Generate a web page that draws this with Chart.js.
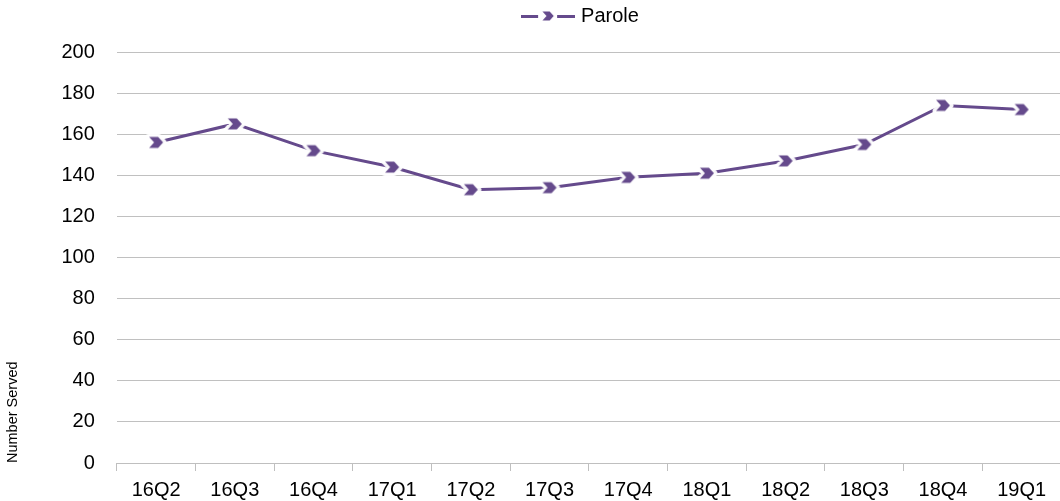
<!DOCTYPE html>
<html lang="en">
<head>
<meta charset="UTF-8">
<title>Parole - Number Served</title>
<script src="https://cdn.jsdelivr.net/npm/chart.js"></script>
<style>
    html, body { margin: 0; padding: 0; background: #fff; overflow: hidden; }
    /* plot runs slightly past the right edge in the original */
    #wrap { width: 1068px; height: 501px; }
</style>
</head>
<body>
<div id="wrap"><canvas id="chartParole"></canvas></div>
<script>
// data
const quarters = ['16Q2', '16Q3', '16Q4', '17Q1', '17Q2', '17Q3', '17Q4', '18Q1', '18Q2', '18Q3', '18Q4', '19Q1'];
const parole = [156, 165, 152, 144, 133, 134, 139, 141, 147, 155, 174, 172];
const yTicks = [0, 20, 40, 60, 80, 100, 120, 140, 160, 180, 200];

const purple = '#654a8c';
const FONT = 'Liberation Sans';

// chevron shape
function chevron(ctx, cx, cy) {
    ctx.beginPath();
    ctx.moveTo(cx - 7, cy - 5.5);
    ctx.lineTo(cx + 2, cy - 5.5);
    ctx.lineTo(cx + 7, cy);
    ctx.lineTo(cx + 2, cy + 5.5);
    ctx.lineTo(cx - 7, cy + 5.5);
    ctx.lineTo(cx - 2, cy);
    ctx.closePath();
}
function makeMarker() {
    const c = document.createElement('canvas');
    c.width = 26; c.height = 22;
    const ctx = c.getContext('2d');
    ctx.lineJoin = 'round';
    chevron(ctx, 13, 11);
    ctx.strokeStyle = 'rgba(255,255,255,0.95)';
    ctx.lineWidth = 7;
    ctx.stroke();
    ctx.fillStyle = purple;
    chevron(ctx, 13, 11);
    ctx.fill();
    return c;
}
function makeLegendMarker() {
    const c = document.createElement('canvas');
    c.width = 54; c.height = 14;
    const ctx = c.getContext('2d');
    ctx.fillStyle = purple;
    ctx.fillRect(0, 6, 17, 3);
    ctx.fillRect(36, 6, 18, 3);
    ctx.save();
    ctx.translate(27, 7);
    ctx.scale(0.8, 0.8);
    chevron(ctx, 0, 0);
    ctx.restore();
    ctx.fill();
    return c;
}
const marker = makeMarker();
const legendMarker = makeLegendMarker();

// extra room under the legend, and nudge it right like the original
const legendTweak = {
    id: 'legendTweak',
    beforeInit(chart) {
        const fit = chart.legend.fit;
        chart.legend.fit = function () {
            fit.bind(chart.legend)();
            this.height += 16;
        };
    },
    afterLayout(chart) {
        chart.legend.left += 46;
        chart.legend.right += 46;
    }
};

new Chart(document.getElementById('chartParole'), {
    type: 'line',
    data: {
        labels: quarters,
        datasets: [{
            label: 'Parole',
            data: parole,
            borderColor: purple,
            backgroundColor: purple,
            borderWidth: 3,
            pointStyle: marker,
            tension: 0,
            fill: false
        }]
    },
    plugins: [legendTweak],
    options: {
        responsive: true,
        maintainAspectRatio: false,
        animation: false,
        layout: { padding: { top: 0, right: 0, left: 4, bottom: -8 } },
        plugins: {
            legend: {
                position: 'top',
                labels: {
                    usePointStyle: true,
                    pointStyleWidth: 46,
                    color: '#000',
                    font: { family: FONT, size: 20 },
                    padding: 6,
                    generateLabels: chart => [{
                        text: 'Parole',
                        pointStyle: legendMarker,
                        fillStyle: purple,
                        strokeStyle: purple,
                        lineWidth: 0,
                        datasetIndex: 0,
                        fontColor: '#000'
                    }]
                }
            },
            tooltip: { enabled: false }
        },
        scales: {
            x: {
                offset: true,
                grid: {
                    offset: true,
                    drawOnChartArea: false,
                    drawTicks: true,
                    tickLength: 8,
                    color: '#bfbfbf'
                },
                border: { color: '#bfbfbf', width: 1 },
                ticks: {
                    color: '#000',
                    font: { family: FONT, size: 20 },
                    padding: 7,
                    maxRotation: 0,
                    autoSkip: false
                }
            },
            y: {
                min: 0,
                max: 200,
                afterBuildTicks: axis => { axis.ticks = yTicks.map(v => ({ value: v })); },
                grid: { color: '#c0c0c0', drawTicks: false },
                border: { display: false },
                ticks: {
                    color: '#000',
                    font: { family: FONT, size: 20 },
                    padding: 22
                },
                title: {
                    display: true,
                    text: 'Number Served',
                    align: 'start',
                    color: '#000',
                    font: { family: FONT, size: 14.5 },
                    padding: { top: 0, bottom: 18 }
                }
            }
        }
    }
});
</script>
</body>
</html>
